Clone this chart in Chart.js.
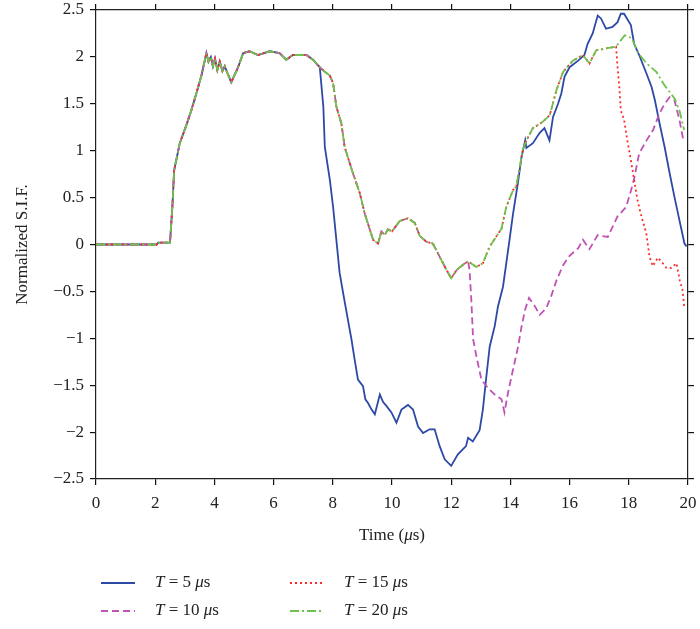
<!DOCTYPE html>
<html>
<head>
<meta charset="utf-8">
<script src="https://cdn.jsdelivr.net/npm/chart.js@4.4.1/dist/chart.umd.min.js"></script>
<style>
  html, body { margin: 0; padding: 0; background: #fff; }
  #wrap { width: 700px; height: 629px; }
</style>
</head>
<body>
<div id="wrap"><canvas id="sifChart" width="700" height="629"></canvas></div>
<script>
// --- data (time in µs, normalized S.I.F.) ---
// part common to every loading duration
const sharedTime = [0, 2.05, 2.1, 2.5, 2.58, 2.64, 2.83, 3.05, 3.22, 3.39, 3.56, 3.73, 3.8, 3.88, 3.95, 4.02, 4.1, 4.18, 4.27, 4.35, 4.45, 4.57, 4.7, 4.8, 4.97, 5.19, 5.47, 5.87, 6.2, 6.43, 6.65, 7.11, 7.33, 7.5, 7.56];
const sharedValue = [0, 0, 0.02, 0.02, 0.4, 0.79, 1.08, 1.27, 1.43, 1.61, 1.80, 2.04, 1.95, 2.0, 1.9, 1.98, 1.86, 1.95, 1.85, 1.9, 1.82, 1.73, 1.82, 1.89, 2.04, 2.06, 2.02, 2.06, 2.04, 1.97, 2.02, 2.02, 1.97, 1.91, 1.89];

// T = 5 µs after it leaves the others
const t5Time = [7.68, 7.73, 7.9, 8.01, 8.12, 8.23, 8.35, 8.51, 8.63, 8.74, 8.85, 9.02, 9.1, 9.19, 9.31, 9.42, 9.59, 9.7, 9.81, 9.98, 10.15, 10.32, 10.54, 10.71, 10.88, 11.05, 11.27, 11.44, 11.61, 11.78, 12.0, 12.22, 12.5, 12.57, 12.73, 12.96, 13.07, 13.19, 13.3, 13.47, 13.58, 13.75, 13.86, 13.97, 14.09, 14.26, 14.38, 14.5, 14.54, 14.76, 14.99, 15.15, 15.32, 15.44, 15.61, 15.72, 15.83, 16.0, 16.29, 16.5, 16.61, 16.78, 16.95, 17.06, 17.23, 17.45, 17.62, 17.73, 17.84, 18.07, 18.18, 18.35, 18.6, 18.77, 18.88, 19.04, 19.21, 19.38, 19.54, 19.71, 19.88, 19.95];
const t5Value = [1.47, 1.04, 0.69, 0.40, 0.05, -0.30, -0.52, -0.80, -1.01, -1.23, -1.44, -1.51, -1.65, -1.69, -1.76, -1.81, -1.60, -1.68, -1.72, -1.79, -1.90, -1.76, -1.71, -1.76, -1.94, -2.01, -1.97, -1.97, -2.15, -2.29, -2.36, -2.24, -2.15, -2.06, -2.10, -1.98, -1.76, -1.40, -1.09, -0.87, -0.66, -0.45, -0.20, 0.05, 0.33, 0.67, 0.94, 1.11, 1.03, 1.08, 1.19, 1.24, 1.11, 1.36, 1.50, 1.61, 1.79, 1.89, 1.96, 2.02, 2.14, 2.25, 2.44, 2.41, 2.30, 2.32, 2.37, 2.46, 2.46, 2.34, 2.14, 2.02, 1.82, 1.68, 1.54, 1.29, 1.04, 0.76, 0.51, 0.26, 0.01, -0.02];

// common to T = 10, 15, 20 µs
const midTime = [7.7, 7.9, 8.01, 8.12, 8.29, 8.4, 8.68, 8.91, 9.08, 9.25, 9.36, 9.53, 9.64, 9.75, 9.86, 10.0, 10.26, 10.54, 10.77, 10.94, 11.16, 11.38, 11.61, 11.84, 12.0, 12.19, 12.42, 12.57];
const midValue = [1.85, 1.80, 1.72, 1.47, 1.29, 1.04, 0.76, 0.55, 0.33, 0.16, 0.05, 0.01, 0.14, 0.10, 0.16, 0.14, 0.25, 0.28, 0.23, 0.09, 0.03, 0.01, -0.13, -0.27, -0.36, -0.27, -0.21, -0.18];

// T = 10 µs after it leaves the others
const t10Time = [12.62, 12.68, 12.74, 12.85, 13.02, 13.24, 13.47, 13.7, 13.8, 13.92, 14.09, 14.26, 14.38, 14.5, 14.63, 14.83, 14.99, 15.21, 15.39, 15.56, 15.78, 16.0, 16.29, 16.45, 16.67, 16.95, 17.29, 17.62, 17.91, 18.07, 18.18, 18.35, 18.6, 18.82, 19.04, 19.21, 19.38, 19.54, 19.71, 19.85];
const t10Value = [-0.27, -0.59, -1.01, -1.19, -1.44, -1.53, -1.60, -1.65, -1.79, -1.58, -1.33, -1.09, -0.87, -0.69, -0.57, -0.66, -0.75, -0.68, -0.54, -0.38, -0.22, -0.12, -0.04, 0.05, -0.05, 0.10, 0.08, 0.30, 0.40, 0.57, 0.70, 0.97, 1.11, 1.22, 1.40, 1.50, 1.57, 1.54, 1.33, 1.10];

// common to T = 15, 20 µs
const lateTime = [12.85, 13.07, 13.3, 13.41, 13.7, 13.86, 14.09, 14.2, 14.42, 14.54, 14.76, 15.1, 15.33, 15.56, 15.78, 16.11, 16.45, 16.67, 16.9, 17.23, 17.57];
const lateValue = [-0.24, -0.20, -0.02, 0.03, 0.17, 0.40, 0.58, 0.62, 1.01, 1.11, 1.24, 1.31, 1.38, 1.65, 1.84, 1.96, 2.02, 1.93, 2.07, 2.09, 2.11];

// T = 15 µs tail
const t15Time = [17.62, 17.68, 17.73, 17.84, 17.95, 18.07, 18.18, 18.29, 18.4, 18.59, 18.7, 18.81, 18.98, 19.15, 19.27, 19.44, 19.61, 19.72, 19.81, 19.88];
const t15Value = [1.89, 1.68, 1.43, 1.33, 1.11, 0.90, 0.69, 0.48, 0.33, 0.12, -0.13, -0.23, -0.14, -0.20, -0.25, -0.25, -0.20, -0.38, -0.48, -0.68];

// T = 20 µs tail
const t20Time = [17.86, 18.1, 18.32, 18.6, 18.93, 19.2, 19.54, 19.71, 19.87];
const t20Value = [2.23, 2.20, 2.04, 1.93, 1.84, 1.70, 1.56, 1.43, 1.22];

const seriesLabels = ["5", "10", "15", "20"];
const xTicks = { min: 0, max: 20, step: 2 };
const yTicks = { min: -2.5, max: 2.5, step: 0.5 };

function toPoints(times, values) {
  return times.map((t, i) => ({ x: t, y: values[i] }));
}

const shared = toPoints(sharedTime, sharedValue);
const mid = toPoints(midTime, midValue);
const late = toPoints(lateTime, lateValue);

const series = [
  { data: shared.concat(toPoints(t5Time, t5Value)), color: "#2d49a6", dash: [], order: 3 },
  { data: shared.concat(mid, toPoints(t10Time, t10Value)), color: "#bf52b5", dash: [7, 4], order: 2 },
  { data: shared.concat(mid, late, toPoints(t15Time, t15Value)), color: "#ff2a2a", dash: [2, 3], order: 1 },
  { data: shared.concat(mid, late, toPoints(t20Time, t20Value)), color: "#6cc24a", dash: [9, 3, 2, 3], order: 0 },
];

const FONT = '"Liberation Serif", "DejaVu Serif", serif';

function fmt(v) {
  const s = String(Number(v.toFixed(1)));
  return v < 0 ? "\u2212" + s.slice(1) : s;
}

// draws a run of [text, italic] pieces starting at x
function drawRich(ctx, parts, x, y, size) {
  let cx = x;
  parts.forEach(([txt, it]) => {
    ctx.font = (it ? "italic " : "") + size + "px " + FONT;
    ctx.fillText(txt, cx, y);
    cx += ctx.measureText(txt).width;
  });
  return cx;
}
function richWidth(ctx, parts, size) {
  let w = 0;
  parts.forEach(([txt, it]) => {
    ctx.font = (it ? "italic " : "") + size + "px " + FONT;
    w += ctx.measureText(txt).width;
  });
  return w;
}

const textPlugin = {
  id: "textPlugin",
  afterDraw(chart) {
    const ctx = chart.ctx;
    const area = chart.chartArea;
    ctx.save();
    ctx.fillStyle = "#222";
    ctx.textBaseline = "middle";
    ctx.textAlign = "left";

    // x title
    const xt = [["Time (", false], ["\u03bc", true], ["s)", false]];
    const w = richWidth(ctx, xt, 17);
    drawRich(ctx, xt, (area.left + area.right) / 2 - w / 2, 536, 17);

    // y title
    ctx.save();
    ctx.translate(23, (area.top + area.bottom) / 2);
    ctx.rotate(-Math.PI / 2);
    ctx.font = "17px " + FONT;
    ctx.textAlign = "center";
    ctx.fillText("Normalized S.I.F.", 0, 0);
    ctx.restore();

    // legend
    const cols = [101, 290];
    const rows = [583, 611];
    const slots = [[0, 0], [0, 1], [1, 0], [1, 1]];
    series.forEach((s, i) => {
      const [c, r] = slots[i];
      const x0 = cols[c], y0 = rows[r];
      ctx.strokeStyle = s.color;
      ctx.lineWidth = 2;
      ctx.setLineDash(s.dash);
      ctx.beginPath();
      ctx.moveTo(x0, y0);
      ctx.lineTo(x0 + 34, y0);
      ctx.stroke();
      ctx.setLineDash([]);
      drawRich(ctx, [["T", true], [" = " + seriesLabels[i] + " ", false], ["\u03bc", true], ["s", false]], x0 + 54, y0, 17);
    });
    ctx.restore();
  }
};

function frameAxis(position, min, max, step, showLabels, size) {
  return {
    type: "linear",
    position: position,
    min: min,
    max: max,
    ticks: {
      display: showLabels,
      stepSize: step,
      padding: position === "left" ? 6 : 8,
      color: "#222",
      font: { family: FONT, size: 17 },
      callback: (v) => fmt(v),
    },
    grid: { drawOnChartArea: false, drawTicks: true, tickLength: 6, color: "#111", lineWidth: 1.2 },
    border: { display: true, color: "#222", width: 1.2 },
    afterFit: (scale) => {
      if (position === "left" || position === "right") scale.width = size;
      else scale.height = size;
      // let the end labels overhang; keep the plot box where the figure has it
      scale.paddingTop = 0;
      scale.paddingBottom = 0;
      scale.paddingLeft = 0;
      scale.paddingRight = 0;
    },
  };
}

new Chart(document.getElementById("sifChart"), {
  type: "line",
  data: {
    datasets: series.map((s, i) => ({
      label: "T = " + seriesLabels[i] + " \u03bcs",
      data: s.data,
      borderColor: s.color,
      borderDash: s.dash,
      borderWidth: 1.8,
      pointRadius: 0,
      tension: 0,
      fill: false,
      order: s.order,
    })),
  },
  options: {
    responsive: false,
    animation: false,
    devicePixelRatio: 1,
    layout: { padding: 0 },
    plugins: { legend: { display: false }, tooltip: { enabled: false } },
    scales: {
      x: frameAxis("bottom", xTicks.min, xTicks.max, xTicks.step, true, 150),
      x2: frameAxis("top", xTicks.min, xTicks.max, xTicks.step, false, 10),
      y: frameAxis("left", yTicks.min, yTicks.max, yTicks.step, true, 96),
      y2: frameAxis("right", yTicks.min, yTicks.max, yTicks.step, false, 12),
    },
  },
  plugins: [textPlugin],
});
</script>
</body>
</html>
